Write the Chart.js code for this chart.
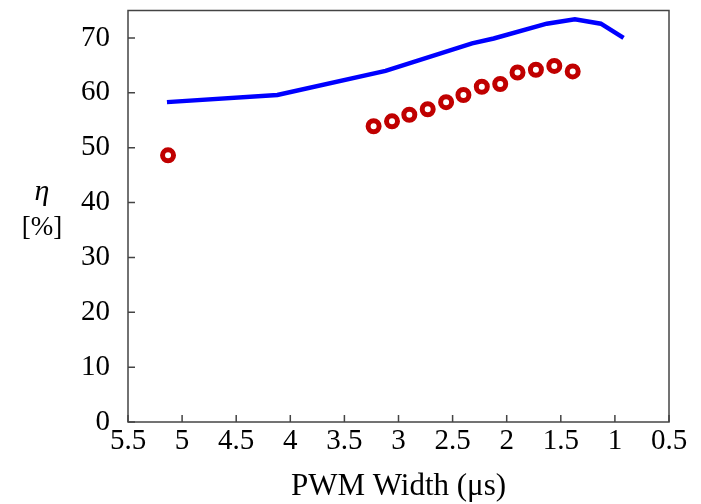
<!DOCTYPE html>
<html>
<head>
<meta charset="utf-8">
<script src="https://cdn.jsdelivr.net/npm/chart.js@4/dist/chart.umd.min.js"></script>
<style>
  html, body { margin: 0; padding: 0; background: #fff; }
  #wrap { width: 701px; height: 504px; position: relative; }
</style>
</head>
<body>
<div id="wrap"><canvas id="effChart"></canvas></div>
<script>
// PWM width (us) vs efficiency eta (%)
const lineWidths = [5.14, 4.12, 3.12, 2.32, 2.12, 1.63, 1.37, 1.13, 0.92];
const lineEff    = [58.3, 59.6, 64.0, 69.0, 69.9, 72.6, 73.4, 72.6, 70.0];

const measWidths = [5.13, 3.23, 3.06, 2.90, 2.73, 2.56, 2.40, 2.23, 2.06, 1.90, 1.73, 1.56, 1.39];
const measEff    = [48.6, 53.9, 54.8, 56.0, 57.0, 58.3, 59.6, 61.1, 61.6, 63.7, 64.2, 64.9, 63.9];

const xTicks = [5.5, 5, 4.5, 4, 3.5, 3, 2.5, 2, 1.5, 1, 0.5];
const yTicks = [0, 10, 20, 30, 40, 50, 60, 70];

const serif = 'Liberation Serif, "Times New Roman", serif';
const axisColor = '#444';

function toPoints(xs, ys) {
    return xs.map((x, i) => ({ x: x, y: ys[i] }));
}

// box frame, inward tick marks and the eta label
const framePlugin = {
    id: 'frame',
    afterDraw(chart) {
        const ctx = chart.ctx;
        const a = chart.chartArea;
        const xs = chart.scales.x, ys = chart.scales.y;
        ctx.save();
        ctx.strokeStyle = axisColor;
        ctx.lineWidth = 1.5;
        ctx.strokeRect(a.left, a.top, a.right - a.left, a.bottom - a.top);
        ctx.beginPath();
        xTicks.forEach(v => {
            const px = xs.getPixelForValue(v);
            ctx.moveTo(px, a.bottom);
            ctx.lineTo(px, a.bottom - 7);
        });
        yTicks.forEach(v => {
            const py = ys.getPixelForValue(v);
            ctx.moveTo(a.left, py);
            ctx.lineTo(a.left + 7, py);
        });
        ctx.stroke();

        ctx.fillStyle = '#000';
        ctx.textAlign = 'center';
        ctx.textBaseline = 'middle';
        ctx.font = 'italic 30px ' + serif;
        ctx.fillText('η', 42, 192);
        ctx.font = '27px ' + serif;
        ctx.fillText('[%]', 42, 228);
        ctx.restore();
    }
};

new Chart(document.getElementById('effChart'), {
    type: 'scatter',
    data: {
        datasets: [{
            label: 'Simulated',
            data: toPoints(lineWidths, lineEff),
            showLine: true,
            borderColor: '#0000ff',
            borderWidth: 4.5,
            pointRadius: 0,
            tension: 0,
            order: 2
        }, {
            label: 'Measured',
            data: toPoints(measWidths, measEff),
            showLine: false,
            pointStyle: 'circle',
            pointRadius: 5.5,
            pointBorderWidth: 5,
            borderColor: '#c00000',
            backgroundColor: '#ffffff',
            order: 1
        }]
    },
    options: {
        responsive: true,
        maintainAspectRatio: false,
        animation: false,
        layout: { padding: { top: 7, right: 32, left: 0, bottom: 0 } },
        scales: {
            x: {
                type: 'linear',
                reverse: true,
                min: 0.5,
                max: 5.5,
                afterBuildTicks: s => { s.ticks = xTicks.map(v => ({ value: v })); },
                afterFit: s => { s.height = 82; s.paddingLeft = 0; s.paddingRight = 0; },
                ticks: {
                    font: { family: serif, size: 29 },
                    color: '#000',
                    padding: 2,
                    maxRotation: 0,
                    autoSkip: false,
                    callback: v => String(v)
                },
                grid: { drawOnChartArea: false, drawTicks: false },
                border: { display: false },
                title: {
                    display: true,
                    text: 'PWM Width (μs)',
                    font: { family: serif, size: 31, lineHeight: 1.05 },
                    color: '#000',
                    padding: { top: 0, bottom: 1 }
                }
            },
            y: {
                min: 0,
                max: 75,
                afterBuildTicks: s => { s.ticks = yTicks.map(v => ({ value: v })); },
                afterFit: s => { s.width = 128; s.paddingTop = 0; s.paddingBottom = 0; },
                ticks: {
                    font: { family: serif, size: 29 },
                    color: '#000',
                    padding: 18,
                    callback: v => String(v)
                },
                grid: { drawOnChartArea: false, drawTicks: false },
                border: { display: false }
            }
        },
        plugins: {
            legend: { display: false },
            tooltip: { enabled: false }
        }
    },
    plugins: [framePlugin]
});
</script>
</body>
</html>
